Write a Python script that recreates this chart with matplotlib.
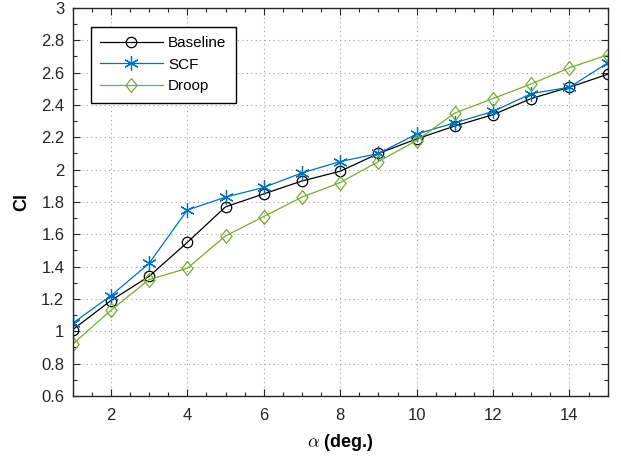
import numpy as np
import matplotlib
matplotlib.use("Agg")
from matplotlib import pyplot as plt
from matplotlib.ticker import MultipleLocator, FuncFormatter
from matplotlib.path import Path

alpha = [1, 2, 3, 4, 5, 6, 7, 8, 9, 10, 11, 12, 13, 14, 15]
baseline = [1.01, 1.19, 1.34, 1.55, 1.77, 1.85, 1.93, 1.99, 2.10, 2.19, 2.27, 2.34, 2.44, 2.51, 2.59]
scf = [1.05, 1.22, 1.42, 1.75, 1.83, 1.89, 1.98, 2.05, 2.10, 2.22, 2.29, 2.36, 2.47, 2.51, 2.66]
droop = [0.92, 1.13, 1.32, 1.39, 1.59, 1.71, 1.83, 1.92, 2.05, 2.18, 2.35, 2.44, 2.53, 2.63, 2.71]

plt.rcParams['font.family'] = ['Liberation Sans', 'DejaVu Sans']
plt.rcParams['mathtext.fontset'] = 'cm'

# matlab style diamond, a bit taller than wide
diamond = Path([(0, 1), (0.8, 0), (0, -1), (-0.8, 0), (0, 1)],
               [Path.MOVETO, Path.LINETO, Path.LINETO, Path.LINETO, Path.CLOSEPOLY])

fig = plt.figure(figsize=(6.21, 4.59), dpi=100)
ax = fig.add_axes([0.117, 0.1373, 0.8616, 0.8453])

ax.plot(alpha, baseline, '-o', color='black', lw=0.9, ms=7.5, mfc='none', mew=0.9, label='Baseline')
ax.plot(alpha, scf, '-', marker=(6, 2, 0), color='#0072BD', lw=0.9, ms=10.5, mew=0.9, label='SCF')
ax.plot(alpha, droop, '-', marker=diamond, color='#77AC30', lw=0.9, ms=10, mfc='none', mew=0.9, label='Droop')

ax.set_xlim(1, 15)
ax.set_ylim(0.6, 3)
ax.xaxis.set_major_locator(MultipleLocator(2))
ax.xaxis.set_minor_locator(MultipleLocator(0.5))
ax.yaxis.set_major_locator(MultipleLocator(0.2))
ax.yaxis.set_minor_locator(MultipleLocator(0.1))
ax.yaxis.set_major_formatter(FuncFormatter(lambda v, p: ('%.1f' % v).rstrip('0').rstrip('.')))
ax.tick_params(which='both', direction='in', top=True, right=True, labelsize=12, colors='#262626')
ax.tick_params(which='major', length=5, width=0.8)
ax.tick_params(which='minor', length=3, width=0.8)
ax.tick_params(axis='x', which='major', pad=9)
ax.tick_params(axis='y', which='major', pad=6)
ax.grid(True, which='major', linestyle=(0, (1, 3)), color='#a0a0a0', lw=0.8)
for s in ax.spines.values():
    s.set_linewidth(1.0)
    s.set_color('#262626')

ax.set_xlabel(r'$\alpha$ (deg.)', fontsize=13, fontweight='bold', labelpad=6)
ax.set_ylabel('Cl', fontsize=13, fontweight='bold', labelpad=8)

leg = ax.legend(loc='upper left', bbox_to_anchor=(0.034, 0.951), borderaxespad=0, fontsize=11,
                fancybox=False, edgecolor='black', framealpha=1, handlelength=4.1,
                handletextpad=0.35, borderpad=0.6, labelspacing=0.5)
leg.get_frame().set_linewidth(1.0)

fig.savefig('out.png', dpi=100)
